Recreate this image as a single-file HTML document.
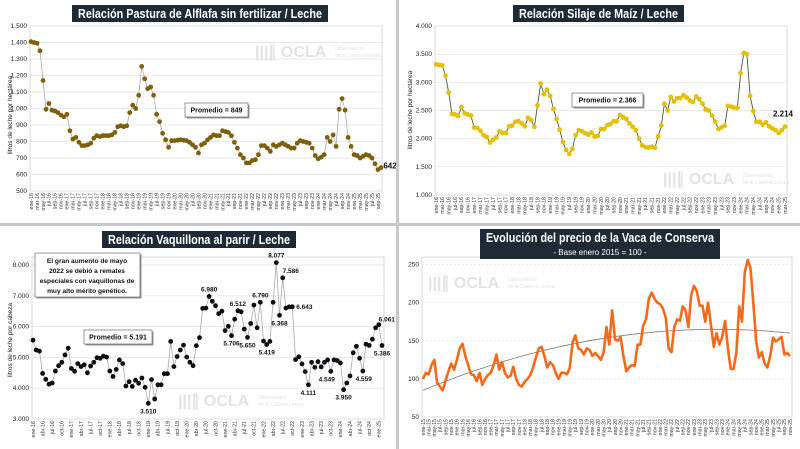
<!DOCTYPE html>
<html><head><meta charset="utf-8"><style>
html,body{margin:0;padding:0;background:#fff}
svg{display:block;font-family:"Liberation Sans",sans-serif}
</style></head><body>
<svg id="s" width="800" height="449" viewBox="0 0 800 449" xmlns="http://www.w3.org/2000/svg"></svg>
<script>
const S=document.getElementById('s');let h='';
const mN=['ene','feb','mar','abr','may','jun','jul','ago','sep','oct','nov','dic'];
function chart(o){
 const n=o.d.length,x=i=>o.x0+(o.x1-o.x0)*i/(n-1),y=v=>o.y0+(o.y1-o.y0)*(v-o.vmin)/(o.vmax-o.vmin);
 h+=`<rect x="${o.bx0}" y="${o.by0}" width="${o.bx1-o.bx0}" height="${o.by1-o.by0}" fill="#fff" stroke="#cfcfcf" stroke-width="0.8"/>`;
 for(let v=o.vmin;v<=o.vmax;v+=o.step){const yy=y(v);
  h+=`<line x1="${o.bx0}" x2="${o.bx1}" y1="${yy}" y2="${yy}" stroke="#e2e2e2" stroke-width="0.7" ${o.dash?'stroke-dasharray="2,2"':''}/>`;
  h+=`<text x="${o.bx0-3}" y="${yy+2}" font-size="6.5" text-anchor="end" fill="#222">${o.fmt(v)}</text>`;}
 h+=`<text x="${o.wx}" y="${o.wy}" font-size="16" font-weight="bold" fill="#e3e3e3">|||∥ OCLA</text><text x="${o.wx+80}" y="${o.wy-7}" font-size="5" fill="#e3e3e3">Observatorio</text><text x="${o.wx+80}" y="${o.wy}" font-size="5" fill="#e3e3e3">de la Cadena Láctea</text>`;
 for(let i=0;i<n;i+=o.ev){const m=(o.sm+i)%12,yr=o.sy+Math.floor((o.sm+i)/12);
  h+=`<text transform="translate(${x(i)+1.8},${o.by1+2}) rotate(-90)" font-size="5.3" text-anchor="end" fill="#333">${mN[m]}-${yr}</text>`;}
 if(o.trend){let p='';for(let i=0;i<n;i++){const t=i/(n-1);p+=(i?'L':'M')+x(i).toFixed(1)+','+y(85+200*t-125*t*t).toFixed(1);}
  h+=`<path d="${p}" fill="none" stroke="#777" stroke-width="0.8"/>`;}
 const pts=o.d.map((v,i)=>x(i).toFixed(1)+','+y(v).toFixed(1)).join(' ');
 h+=`<polyline points="${pts}" fill="none" stroke="${o.lc}" stroke-width="${o.lw}" stroke-linejoin="round"/>`;
 if(o.mc)o.d.forEach((v,i)=>{h+=`<circle cx="${x(i).toFixed(1)}" cy="${y(v).toFixed(1)}" r="2.4" fill="${o.mc}"/>`;});
 (o.lab||[]).forEach(l=>{h+=`<text x="${x(l[0])+l[2]}" y="${y(o.d[l[0]])+l[3]}" font-size="${l[4]||6.5}" font-weight="bold" text-anchor="middle" fill="#111">${l[1]}</text>`;});
 h+=`<text transform="translate(${o.ylx},${o.yly}) rotate(-90)" font-size="6.5" text-anchor="middle" fill="#222">${o.yl||''}</text>`;
}
function title(x0,y0,w,hh,t,sub){h+=`<rect x="${x0}" y="${y0}" width="${w}" height="${hh}" fill="#1e2a35"/><text x="${x0+w/2}" y="${y0+13}" font-size="12.5" font-weight="bold" fill="#fff" text-anchor="middle" textLength="${w-12}" lengthAdjust="spacingAndGlyphs">${t}</text>`;
 if(sub)h+=`<text x="${x0+w/2}" y="${y0+26}" font-size="8" fill="#fff" text-anchor="middle">${sub}</text>`;}
function box(x0,y0,w,hh,t){h+=`<rect x="${x0+1.5}" y="${y0+1.5}" width="${w}" height="${hh}" fill="#999"/><rect x="${x0}" y="${y0}" width="${w}" height="${hh}" fill="#fff" stroke="#555" stroke-width="0.6"/><text x="${x0+w/2}" y="${y0+hh/2+2.5}" font-size="7" font-weight="bold" text-anchor="middle" fill="#111">${t}</text>`;}
const f3=v=>v>=1000?Math.floor(v/1000)+'.'+String(v%1000).padStart(3,'0'):String(v);
const d1=[1405,1400,1395,1350,1170,995,1030,990,985,975,960,950,965,865,815,825,795,775,775,780,790,820,835,830,835,835,835,840,855,890,895,890,895,975,1020,1000,1080,1255,1180,1120,1130,1080,965,920,850,810,765,805,805,808,810,808,805,795,780,765,730,780,790,810,825,840,835,835,865,860,855,835,795,760,720,700,670,670,685,690,720,775,775,760,740,780,770,780,790,780,770,760,760,790,805,800,795,790,760,715,695,705,720,825,800,840,770,995,1060,990,825,770,720,715,700,710,720,715,700,665,630,642];
chart({d:d1,x0:31,x1:381,y0:191,y1:26,vmin:500,vmax:1500,step:100,bx0:30,bx1:382,by0:26,by1:191,fmt:f3,lc:'#aaa',lw:0.8,mc:'#7d5f0c',ev:2,sm:0,sy:16,wx:255,wy:57,ylx:12,yly:115,yl:'litros de leche por hectárea',lab:[[d1.length-1,'642',9,1,8]]});
title(72,5,256,17,'Relación Pastura de Alflafa sin fertilizar / Leche');
box(185,103,63,14,'Promedio = 849');
const d2=[3320,3310,3300,3120,2820,2440,2430,2400,2560,2450,2430,2410,2200,2190,2140,2060,2030,1930,1980,2020,2130,2100,2100,2220,2230,2300,2310,2270,2220,2370,2330,2210,2590,2980,2790,2870,2760,2530,2350,2160,1940,1800,1730,1820,2060,2150,2130,2100,2070,2110,2040,2050,2170,2170,2240,2260,2310,2310,2420,2380,2350,2270,2210,2150,2000,1880,1850,1840,1860,1840,2040,2230,2620,2500,2740,2660,2720,2720,2770,2730,2680,2650,2750,2700,2620,2520,2500,2410,2300,2170,2200,2230,2580,2570,2550,2550,3160,3520,3500,2760,2490,2300,2300,2250,2290,2220,2180,2150,2100,2150,2214];
chart({d:d2,x0:436,x1:785,y0:195,y1:26,vmin:1000,vmax:4000,step:500,bx0:435,bx1:787,by0:26,by1:195,fmt:f3,lc:'#4b5a3c',lw:0.9,mc:'#e3c000',ev:2,sm:0,sy:16,wx:663,wy:184,ylx:412,yly:110,yl:'litros de leche por hectárea',lab:[[d2.length-1,'2.214',-2,-10,8]]});
title(513,5,171,17,'Relación Silaje de Maíz / Leche');
box(572,93,71,14,'Promedio = 2.366');
const d3=[5560,5240,5200,4480,4290,4130,4170,4560,4730,4840,5080,5300,4640,4550,4800,4700,4760,4500,4720,4840,4990,4970,5040,5010,4560,4380,4610,4920,4800,4070,4210,4060,4260,4160,4330,4030,3510,4280,3650,4110,4110,4470,4470,5520,4700,5030,5240,5400,5010,4840,4730,5380,5640,6590,6600,6980,6820,6680,6420,6500,5870,6010,5706,6240,6512,6480,5920,5650,6100,6700,5960,6790,5530,5419,5520,6790,8077,6368,7586,6600,6640,6643,4930,5020,4790,4540,4111,4840,4680,4860,4690,4840,4920,4549,4920,4900,4820,3950,4170,4400,5150,5360,4970,4559,5430,5390,5590,5960,6061,5386];
chart({d:d3,x0:33,x1:382,y0:419,y1:265,vmin:3000,vmax:8000,step:1000,bx0:32,bx1:384,by0:257,by1:419,fmt:f3,lc:'#aaa',lw:0.8,mc:'#0d0d14',ev:3,sm:0,sy:16,wx:178,wy:406,ylx:12,yly:340,yl:'litros de leche por cabeza',
 lab:[[36,'3.510',0,10],[55,'6.980',0,-5],[62,'5.706',0,10],[64,'6.512',0,-5],[67,'5.650',0,10],[71,'6.790',0,-5],[73,'5.419',0,10],[76,'8.077',0,-5],[77,'6.368',0,10],[78,'7.586',8,-5],[81,'6.643',12,2],[86,'4.111',0,10],[93,'4.549',-4,10],[97,'3.950',0,10],[103,'4.559',1,10],[108,'6.061',8,-3],[109,'5.386',0,10]]});
title(102,231,194,17,'Relación Vaquillona al parir / Leche');
h+=`<rect x="36.5" y="254.5" width="105" height="44" fill="#999"/><rect x="35" y="253" width="105" height="44" fill="#fff" stroke="#555" stroke-width="0.6"/>`;
['El gran  aumento de mayo','2022 se debió a remates','especiales con vaquillonas de','muy alto mérito genético.'].forEach((t,i)=>{h+=`<text x="87" y="${263+i*10}" font-size="6.6" font-weight="bold" text-anchor="middle" fill="#111">${t}</text>`;});
box(84,330,68,14,'Promedio = 5.191');
const d4=[100,108,106,118,125,95,90,85,98,110,120,112,125,140,146,130,118,106,105,97,108,92,100,105,108,118,132,112,122,108,102,104,116,100,92,90,96,100,105,115,128,140,142,130,115,122,118,108,100,108,108,106,115,148,157,140,138,132,140,138,130,134,130,125,135,168,145,190,152,150,155,130,110,115,118,117,145,145,170,178,205,213,205,200,198,192,180,140,135,168,178,176,195,190,168,210,222,215,196,196,175,200,170,142,160,145,155,176,140,113,113,135,195,175,240,256,245,200,150,128,135,120,115,130,154,149,152,155,132,134,130];
chart({d:d4,x0:423,x1:790,y0:417,y1:264.5,vmin:50,vmax:250,step:50,bx0:422,bx1:792,by0:257,by1:417,fmt:String,lc:'#f26a1b',lw:2.6,ev:2,sm:0,sy:15,dash:true,trend:true,wx:428,wy:288,ylx:0,yly:0,yl:''});
title(480,229,240,30,'Evolución del precio de la Vaca de Conserva','- Base enero 2015 = 100 -');
h+=`<rect x="396" y="0" width="3" height="449" fill="#c8c8c8"/><rect x="0" y="223" width="800" height="3" fill="#c8c8c8"/>`;
S.innerHTML=h;
</script>
</body></html>
